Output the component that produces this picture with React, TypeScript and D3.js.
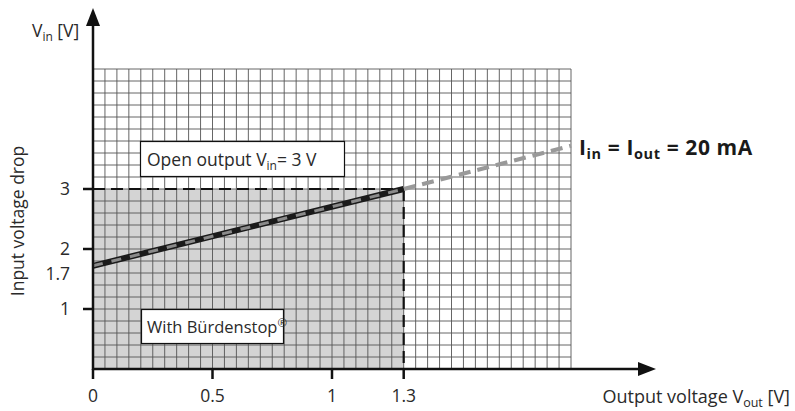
import React from 'react'
import * as d3 from 'd3'

// values
const xTickValues = [0, 0.5, 1, 1.3]
const xTickLabels = ['0', '0.5', '1', '1.3']
const yTickValues = [1, 2, 3]
const yLabelValues = [1, 1.7, 2, 3]
const yLabelTexts = ['1', '1.7', '2', '3']
const gridX = d3.range(0, 2.0001, 0.05)
const gridY = d3.range(0, 5.0001, 0.2)
const burdenLine: [number, number][] = [[0, 1.72], [1.3, 3]]
const loadLine: [number, number][] = [[1.3, 3], [2.0, 3.72]]
const limitX = 1.3
const limitY = 3

const width = 795
const height = 411
const font = "'Open Sans', 'Noto Sans', sans-serif"

export default function App() {
  const x = d3.scaleLinear().domain([0, 2]).range([93, 571])
  const y = d3.scaleLinear().domain([0, 5]).range([369, 69])
  const line = d3.line<[number, number]>().x((d) => x(d[0])).y((d) => y(d[1]))

  const x0 = x(0)
  const y0 = y(0)

  return (
    <svg
      width={width}
      height={height}
      style={{ position: 'absolute', left: 0, top: 0, background: '#fff' }}
      fontFamily={font}
    >
      {/* shaded operating area */}
      <rect x={x0} y={y(limitY)} width={x(limitX) - x0} height={y0 - y(limitY)} fill="#d4d4d4" />

      {/* grid */}
      <g stroke="#555" strokeWidth={0.9}>
        {gridX.map((v, i) => (
          <line key={'gx' + i} x1={x(v)} x2={x(v)} y1={y(0)} y2={y(5)} />
        ))}
        {gridY.map((v, i) => (
          <line key={'gy' + i} x1={x(0)} x2={x(2)} y1={y(v)} y2={y(v)} />
        ))}
      </g>

      {/* limit dashes */}
      <g stroke="#111" strokeWidth={2.2} strokeDasharray="12,6" fill="none">
        <line x1={x0} x2={x(limitX)} y1={y(limitY)} y2={y(limitY)} />
        <line x1={x(limitX)} x2={x(limitX)} y1={y(limitY)} y2={y0} />
      </g>

      {/* characteristic lines */}
      <path d={line(loadLine) || ''} stroke="#999" strokeWidth={4} strokeDasharray="12,7" fill="none" />
      <path d={line(burdenLine) || ''} stroke="#1a1a1a" strokeWidth={6} fill="none" />
      <path d={line(burdenLine) || ''} stroke="#8a8a8a" strokeWidth={3} strokeDasharray="10,9" fill="none" />

      {/* label boxes */}
      <rect x={140.5} y={141.5} width={204} height={35} fill="#fff" stroke="#111" strokeWidth={1.2} />
      <text x={147} y={166} fontSize={17.5} fill="#2a2a2a">
        Open output V<tspan fontSize={12} dy={4}>in</tspan>
        <tspan dy={-4}>= 3 V</tspan>
      </text>
      <rect x={141.5} y={309.5} width={142} height={34} fill="#fff" stroke="#111" strokeWidth={1.2} />
      <text x={147} y={333} fontSize={16.5} fill="#2a2a2a">
        With Bürdenstop<tspan fontSize={11.5} dy={-6}>®</tspan>
      </text>

      {/* axes */}
      <g stroke="#111" strokeWidth={2.5}>
        <line x1={x0} x2={x0} y1={y0 + 1} y2={22} />
        <line x1={x0 - 1} x2={643} y1={y0} y2={y0} />
        {yTickValues.map((v) => (
          <line key={'yt' + v} x1={x0 - 10} x2={x0} y1={y(v)} y2={y(v)} />
        ))}
        {xTickValues.map((v) => (
          <line key={'xt' + v} x1={x(v)} x2={x(v)} y1={y0} y2={y0 + 10} />
        ))}
      </g>
      <path d={`M${x0},8 L${x0 - 7},26 L${x0 + 7},26 Z`} fill="#111" />
      <path d={`M656,${y0} L638,${y0 - 7} L638,${y0 + 7} Z`} fill="#111" />

      {/* tick labels */}
      <g fontSize={17.5} fill="#2a2a2a">
        {yLabelValues.map((v, i) => (
          <text key={'yl' + v} x={70} y={y(v) + (v === 1.7 ? 13 : 6)} textAnchor="end">
            {yLabelTexts[i]}
          </text>
        ))}
        {xTickValues.map((v, i) => (
          <text key={'xl' + v} x={x(v)} y={402} textAnchor="middle">
            {xTickLabels[i]}
          </text>
        ))}
      </g>

      {/* axis titles */}
      <text x={32} y={37} fontSize={17.5} fill="#2a2a2a">
        V<tspan fontSize={12} dy={4}>in</tspan>
        <tspan dy={-4}> [V]</tspan>
      </text>
      <text
        transform={`translate(24, 221) rotate(-90)`}
        textAnchor="middle"
        fontSize={17.5}
        fill="#2a2a2a"
      >
        Input voltage drop
      </text>
      <text x={790} y={403} textAnchor="end" fontSize={18} fill="#2a2a2a">
        Output voltage V<tspan fontSize={12.5} dy={4}>out</tspan>
        <tspan dy={-4}> [V]</tspan>
      </text>
      <text x={579} y={155} fontSize={21} fontWeight="bold" fill="#1a1a1a" letterSpacing={0.6}>
        I<tspan fontSize={14.5} dy={4}>in</tspan>
        <tspan dy={-4}> = I</tspan>
        <tspan fontSize={14.5} dy={4}>out</tspan>
        <tspan dy={-4}> = 20 mA</tspan>
      </text>
    </svg>
  )
}
